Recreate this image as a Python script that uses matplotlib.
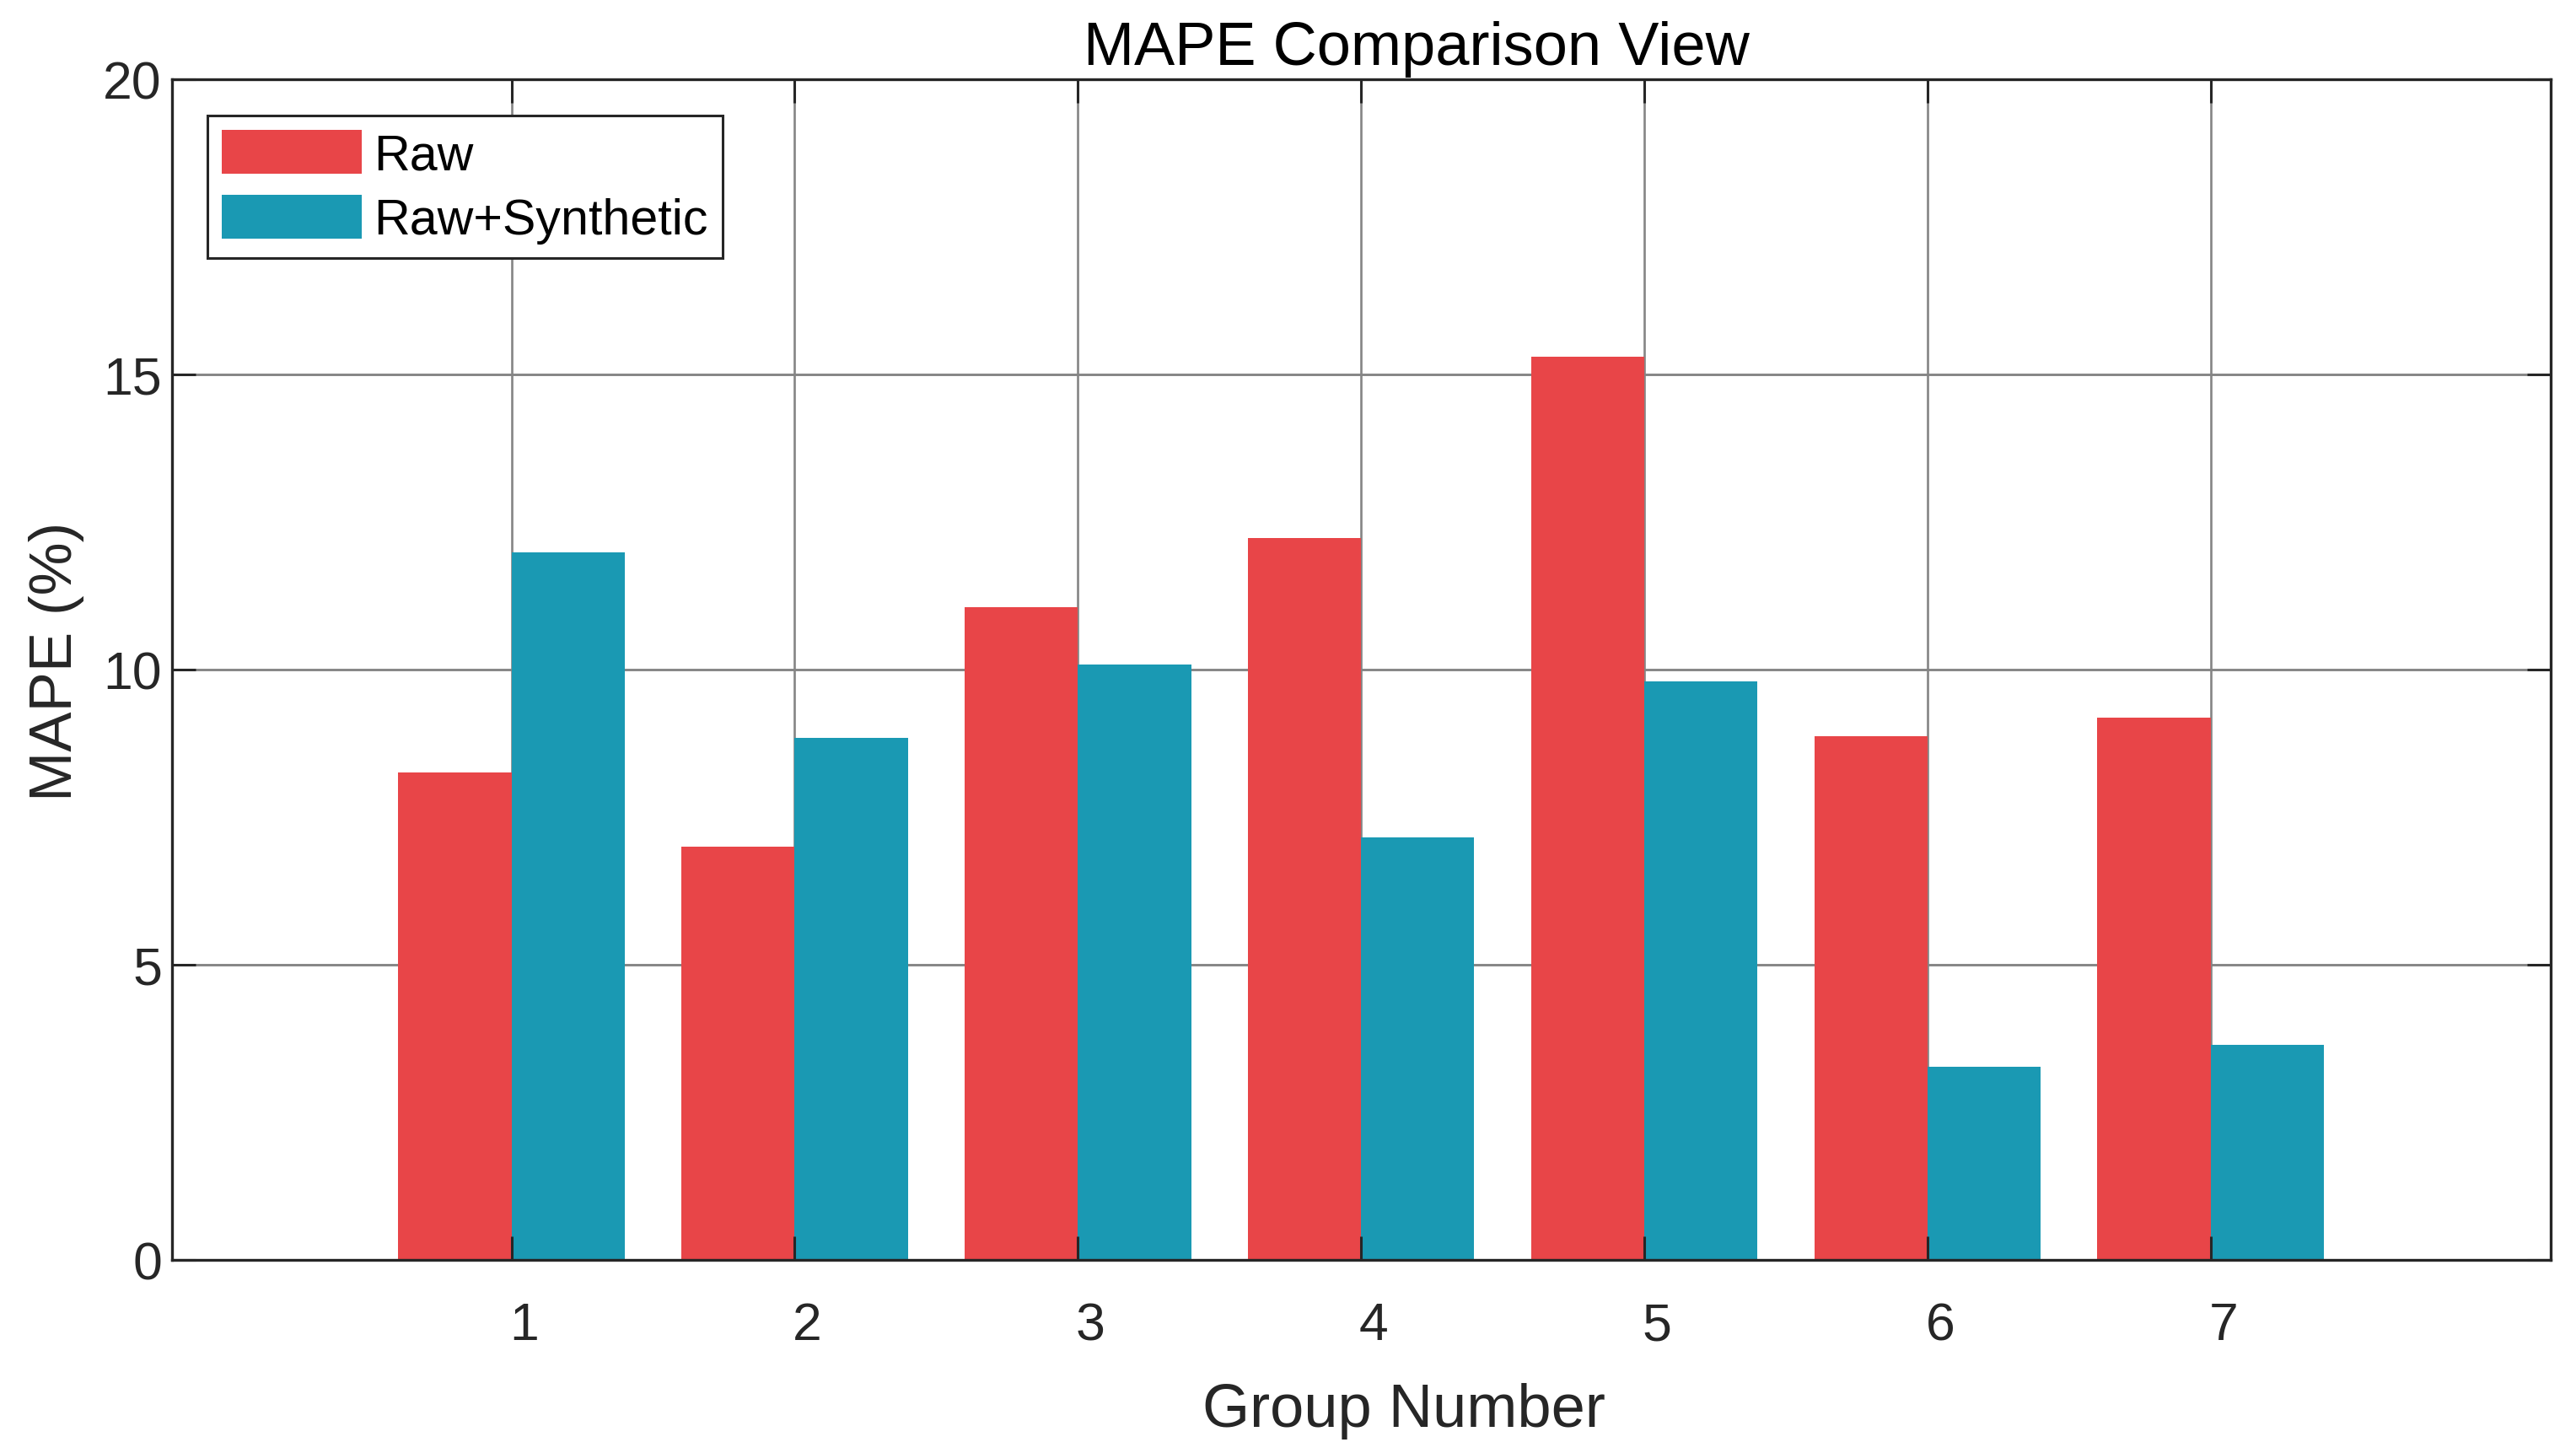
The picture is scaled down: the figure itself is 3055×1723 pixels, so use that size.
import numpy as np
import matplotlib
matplotlib.use("Agg")
import matplotlib.pyplot as plt
import matplotlib.transforms as mtransforms

plt.rcParams['font.family'] = ['Liberation Sans', 'DejaVu Sans']

# data
groups = [1, 2, 3, 4, 5, 6, 7]
mape_raw = [8.26, 7.00, 11.05, 12.22, 15.30, 8.87, 9.19]
mape_syn = [11.99, 8.84, 10.08, 7.16, 9.80, 3.27, 3.64]
series_names = ["Raw", "Raw+Synthetic"]
yticks = [0, 5, 10, 15, 20]

c_raw = "#E84548"
c_syn = "#1A99B3"
dark = "#262626"
grid_c = "#858585"

W, H, DPI = 3055, 1724, 200
fig = plt.figure(figsize=(W / DPI, H / DPI), dpi=DPI)
ax = fig.add_axes([203.6 / W, 1 - 1494.7 / H, (3024.7 - 203.6) / W, (1494.7 - 95) / H])

x = np.array(groups, dtype=float)
bw = 0.4
ax.bar(x - bw / 2, mape_raw, width=bw, color=c_raw, label=series_names[0], zorder=1)
ax.bar(x + bw / 2, mape_syn, width=bw, color=c_syn, label=series_names[1], zorder=1)

ax.set_xlim(-0.2, 8.2)
ax.set_ylim(0, 20)
ax.set_xticks(groups)
ax.set_yticks(yticks)

# grid behind bars, ticks on top (MATLAB style)
for g in groups:
    ax.axvline(g, color=grid_c, lw=0.95, zorder=0.5)
for t in yticks:
    ax.axhline(t, color=grid_c, lw=1.05, zorder=0.5)

ax.tick_params(direction='in', length=10, width=1.1, top=True, right=True,
               color=dark, labelcolor=dark, labelsize=22.5)
ax.tick_params(axis='x', pad=17.5)
ax.tick_params(axis='y', pad=4.2)
for sp in ax.spines.values():
    sp.set_linewidth(1.2)
    sp.set_color(dark)
    sp.set_zorder(3)

off = mtransforms.ScaledTranslation(15 / DPI, 0, fig.dpi_scale_trans)
for lab in ax.get_xticklabels():
    lab.set_transform(lab.get_transform() + off)

leg = ax.legend(loc='upper left', bbox_to_anchor=(246 / W, 1 - 138 / H),
                bbox_transform=fig.transFigure, borderaxespad=0,
                fontsize=21.3, handlelength=2.8, handleheight=0.96,
                handletextpad=0.25, borderpad=0.29, labelspacing=0.32,
                fancybox=False, framealpha=1, edgecolor=dark)
leg.get_frame().set_linewidth(1.1)

fig.text(1680 / W, 1 - 77 / H, "MAPE Comparison View", ha='center', va='baseline',
         fontsize=26, color='black')
fig.text(1665 / W, 1 - 1692 / H, "Group Number", ha='center', va='baseline',
         fontsize=26, color=dark)
fig.text(85 / W, 1 - 784 / H, "MAPE (%)", rotation=90, rotation_mode='anchor',
         ha='center', va='baseline', fontsize=25.5, color=dark)

fig.savefig("out.png", dpi=DPI)
